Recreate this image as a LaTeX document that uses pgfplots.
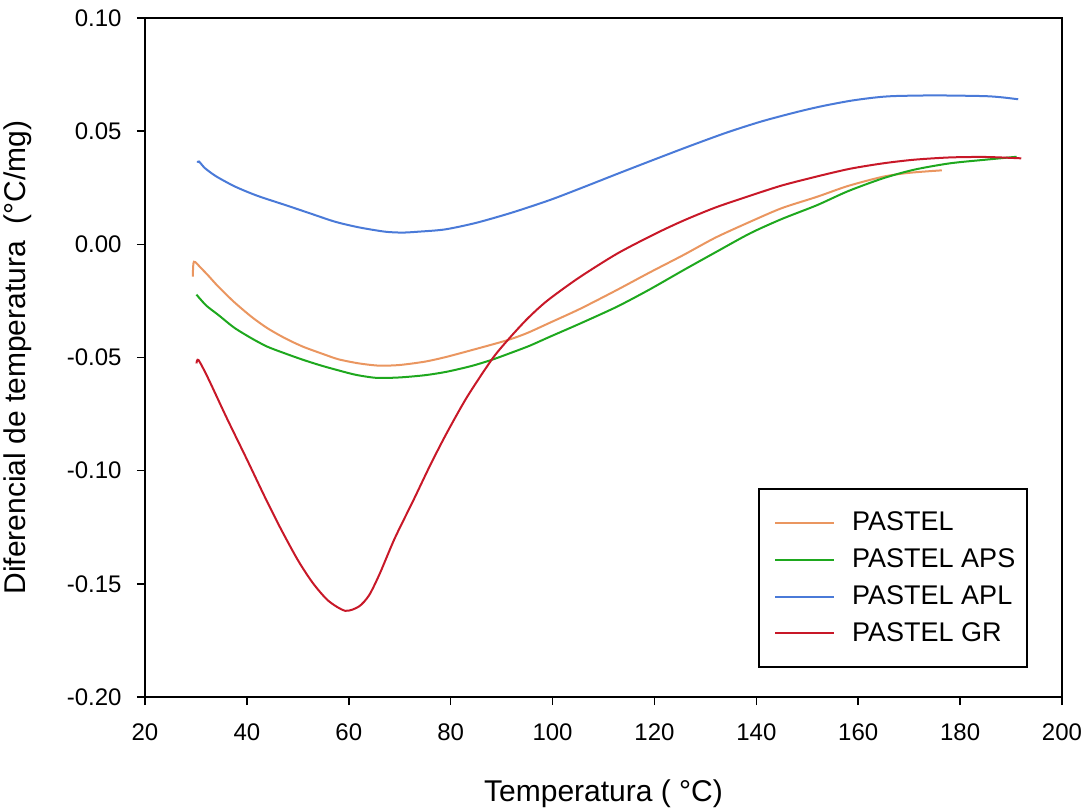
\documentclass[border=0pt]{standalone}
\usepackage{pgfplots}
\pgfplotsset{compat=1.18}
\usepackage{fontspec}
\setmainfont{Liberation Sans}
\definecolor{cOr}{RGB}{234,150,96}
\definecolor{cGr}{RGB}{30,168,30}
\definecolor{cBl}{RGB}{74,122,216}
\definecolor{cRd}{RGB}{200,24,40}
\begin{document}
\begin{tikzpicture}
\begin{axis}[
  at={(0,0)}, anchor=south west,
  scale only axis, width=458.5pt, height=339.5pt,
  xmin=20, xmax=200, ymin=-0.20, ymax=0.10,
  xtick={20,40,...,200},
  ytick={-0.2,-0.15,-0.1,-0.05,0,0.05,0.1},
  scaled y ticks=false, scaled x ticks=false,
  tick align=outside, tick pos=left, major tick length=4pt,
  axis line style={line width=0.8pt, black},
  tick style={line width=0.8pt, black},
  /pgf/number format/assume math mode=true,
  yticklabel style={/pgf/number format/.cd, fixed, fixed zerofill, precision=2, /tikz/.cd,
    font=\fontsize{12}{14}\selectfont, anchor=east, inner sep=0pt, xshift=-7.5pt},
  xticklabel style={font=\fontsize{12}{14}\selectfont, anchor=north, inner sep=0pt, yshift=-9pt},
  xlabel={Temperatura ( °C)},
  ylabel={Diferencial de temperatura\ \ (°C/mg)},
  xlabel style={font=\fontsize{15}{18}\selectfont, at={(axis description cs:0.5,-0.1546)}, anchor=base},
  ylabel style={font=\fontsize{15}{18}\selectfont, at={(axis description cs:-0.139,0.5)}, anchor=center},
  legend style={at={(0.963,0.0427)}, anchor=south east, draw=black, line width=0.8pt,
    font=\fontsize{13.5}{16}\selectfont, inner xsep=4pt, inner ysep=9.5pt, row sep=3.45pt,
    cells={anchor=west},
    /tikz/every odd column/.append style={column sep=6.5pt}},
  legend image code/.code={\path[draw=none] (0pt,0pt); \draw[#1, line width=1pt] (4pt,0pt) -- (33.5pt,0pt);},
  every axis plot/.append style={line width=1pt, smooth, tension=0.45},
]
\addplot[cOr] coordinates {
(29.4,-0.0143) (29.6,-0.0077) (31,-0.0105) (32.5,-0.0140) (34.4,-0.0187) (37.5,-0.0255)
(40.9,-0.0320) (44,-0.0370) (47.5,-0.0415) (51,-0.0452) (55,-0.0485) (58,-0.0508)
(62,-0.0526) (66,-0.0536) (70,-0.0533) (75,-0.0518) (79.2,-0.0497) (85,-0.0462)
(91.2,-0.0423) (95,-0.0392) (99.5,-0.0346) (105.4,-0.0285) (112.6,-0.0202) (119,-0.0125)
(125.7,-0.0047) (132,0.0030) (138.8,0.0100) (145,0.0160) (151.9,0.0210) (158,0.0258)
(164.9,0.0299) (170,0.0316) (176.4,0.0327)
};
\addlegendentry{PASTEL}
\addplot[cGr] coordinates {
(30.1,-0.0222) (32,-0.0270) (34.4,-0.0312) (37.5,-0.0368) (40.9,-0.0415) (44,-0.0452)
(47.5,-0.0482) (51,-0.0510) (54.5,-0.0535) (58,-0.0557) (61.5,-0.0577) (65.5,-0.0590)
(70,-0.0588) (75,-0.0578) (79.2,-0.0563) (84,-0.0538) (88.1,-0.0510) (92,-0.0478)
(95.5,-0.0448) (99.5,-0.0408) (105.4,-0.0350) (112.6,-0.0276) (119,-0.0200) (125.7,-0.0114)
(132,-0.0035) (138.8,0.0049) (145,0.0112) (151.9,0.0173) (158,0.0235) (164.9,0.0292)
(171,0.0330) (178,0.0358) (185,0.0374) (191.1,0.0387)
};
\addlegendentry{PASTEL APS}
\addplot[cBl] coordinates {
(30.3,0.0361) (30.6,0.0366) (31.8,0.0336) (34,0.0300) (37.7,0.0255) (42,0.0215)
(47.5,0.0174) (52,0.0140) (57.3,0.0100) (62,0.0075) (67.1,0.0056) (70.5,0.0052)
(73.7,0.0056) (78.9,0.0066) (85,0.0095) (92,0.0140) (99.5,0.0196) (106,0.0252)
(113,0.0314) (120,0.0375) (127,0.0435) (134.2,0.0494) (141,0.0543) (148,0.0585)
(153,0.0611) (158.4,0.0634) (163,0.0648) (166.9,0.0655) (175,0.0658) (184.6,0.0655)
(188,0.0650) (191.4,0.0641)
};
\addlegendentry{PASTEL APL}
\addplot[cRd] coordinates {
(30.1,-0.0526) (30.5,-0.0511) (32.4,-0.0592) (36,-0.0765) (40,-0.0950) (43.5,-0.1115)
(46.5,-0.1250) (50,-0.1395) (53,-0.1498) (56,-0.1575) (59.3,-0.1619) (62,-0.1600)
(64,-0.1550) (66.1,-0.1454) (69,-0.1300) (72.7,-0.1130) (76,-0.0975) (79.2,-0.0835)
(83.2,-0.0675) (88.1,-0.0508) (91.2,-0.0423) (95,-0.0330) (98.9,-0.0250) (105,-0.0150)
(112.6,-0.0042) (120,0.0045) (125.7,0.0105) (132,0.0163) (138.8,0.0215) (145,0.0260)
(151.9,0.0300) (158.4,0.0334) (164.9,0.0358) (171,0.0374) (178,0.0384) (185,0.0386)
(192,0.0380)
};
\addlegendentry{PASTEL GR}
\end{axis}
\pgfresetboundingbox
\path (-72.5pt,-57pt) rectangle (472.5pt,348.5pt);
\end{tikzpicture}
\end{document}
